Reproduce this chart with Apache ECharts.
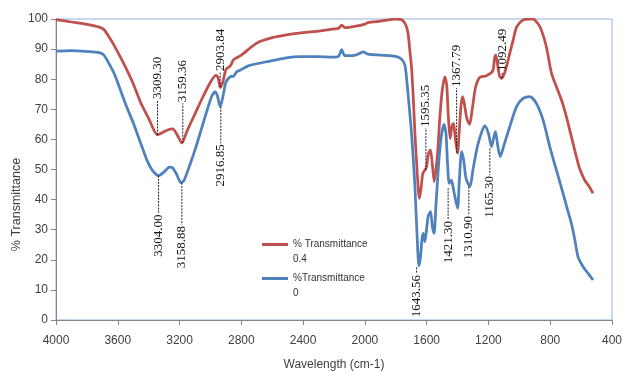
<!DOCTYPE html>
<html>
<head>
<meta charset="utf-8">
<script src="https://cdn.jsdelivr.net/npm/echarts@6/dist/echarts.min.js"></script>
<style>
  html, body { margin: 0; padding: 0; background: #fff; }
  #chart { width: 625px; height: 371px; }
</style>
</head>
<body>
<div id="chart"></div>
<script>
// 0.4 sample (red)
const redWave = [4000, 3900, 3800, 3720, 3690, 3650, 3600, 3550, 3500, 3450, 3400, 3370, 3343, 3310, 3270, 3245, 3215, 3185,
  3150, 3100, 3050, 3000, 2965, 2950, 2937, 2920, 2900, 2870, 2850, 2800, 2700, 2600, 2500, 2400, 2300, 2200, 2170, 2150,
  2130, 2050, 2000, 1980, 1900, 1800, 1760, 1735, 1720, 1708, 1698, 1685, 1676, 1665, 1655, 1648, 1638, 1625, 1611, 1600,
  1590, 1576, 1562, 1551, 1530, 1515, 1500, 1482, 1470, 1460, 1448, 1436, 1426, 1414, 1400, 1390, 1378, 1367, 1355, 1340,
  1322, 1305, 1285, 1265, 1249, 1220, 1185, 1170, 1160, 1152, 1140, 1128, 1115, 1100, 1084, 1062, 1040, 1018, 976, 940,
  911, 880, 857, 825, 792, 760, 727, 695, 663, 631, 610, 577, 550, 523];
const redT = [99.8, 99.0, 98.2, 97.3, 96.5, 93.5, 89, 84, 78.5, 72, 67, 63.5, 61.5, 62.3, 63.3, 63.5, 61.5, 58.8,
  63, 68.5, 74, 79, 81.3, 80.5, 77.3, 79, 83.2, 84.5, 86.5, 88, 92, 93.8, 94.8, 95.5, 96, 96.7, 96.9, 98,
  97.1, 97.7, 98.3, 98.8, 99.3, 100, 99.7, 98, 95, 89, 84, 72, 62, 52, 44, 40.4, 43, 48.7, 49.8, 51,
  55, 56.5, 51, 46, 55, 67, 76, 80.8, 78, 68, 60.3, 64.5, 65.3, 60, 55.4, 62, 71, 74.2, 71.5, 67,
  65, 70, 77, 80, 80.8, 81, 82, 83, 87, 88, 84.5, 81, 80.3, 81.5, 84, 88.6, 93, 97.3, 99.7, 100,
  100, 98.5, 96.3, 90.8, 82, 77.5, 73.1, 67.5, 60.9, 54.3, 50.4, 46.5, 44.5, 42.1];

// 0 sample (blue)
const blueWave = [4000, 3900, 3800, 3720, 3690, 3660, 3620, 3580, 3540, 3500, 3450, 3412, 3380, 3350, 3336, 3300, 3265, 3245,
  3220, 3190, 3170, 3130, 3100, 3067, 3020, 2990, 2970, 2955, 2937, 2920, 2900, 2873, 2850, 2830, 2808, 2750, 2636, 2500,
  2420, 2300, 2200, 2170, 2150, 2130, 2080, 2040, 2010, 1980, 1900, 1794, 1760, 1741, 1731, 1715, 1698, 1685, 1676, 1662,
  1650, 1640, 1630, 1622, 1612, 1601, 1590, 1575, 1563, 1552, 1540, 1525, 1508, 1488, 1475, 1465, 1454, 1440, 1425, 1400,
  1390, 1374, 1360, 1345, 1320, 1300, 1270, 1240, 1223, 1200, 1180, 1168, 1155, 1140, 1124, 1100, 1062, 1018, 976, 932,
  889, 846, 803, 760, 717, 690, 663, 640, 620, 587, 555, 523];
const blueT = [89.3, 89.5, 89.2, 88.8, 88, 85.5, 81.5, 76, 70.5, 65.5, 58.5, 53.2, 50, 48.3, 48, 49.2, 50.8, 50.6,
  48.5, 45.6, 46.5, 52, 56.5, 62, 70, 74.5, 75.8, 74.5, 70.9, 74, 79, 80.8, 81, 82.5, 83, 84.5, 85.8, 87.2,
  87.5, 87.5, 87.3, 87.6, 89.8, 87.8, 87.8, 88.4, 89.1, 88.3, 88, 87.5, 86.5, 84.7, 80.8, 72, 62, 52, 44.3, 28,
  18, 21, 27, 28.8, 26, 30, 34.5, 36, 31, 28.8, 38, 50, 60, 65, 62, 52, 45.4, 46.5, 43, 37.1,
  45, 55.9, 53, 47, 44.3, 50, 58, 63, 64.5, 62, 57.6, 60, 62.6, 58, 54.3, 58, 64.2, 70.9, 73.6, 74.2,
  71.9, 66.4, 57.6, 49.8, 42.1, 37, 32.1, 26.5, 21, 17.7, 15.5, 13.3];

// peak annotations: position, leader line from curve to label
const annWave = [3343, 3179, 2937, 1605, 1406, 1111, 3336, 3185, 2933, 1665, 1461, 1327, 1191];
const annFrom = [61.5, 58.8, 77.3, 49.8, 55.5, 80.3, 48, 45.6, 70.9, 17.5, 43.8, 44.3, 57];
const annTo = [73.1, 72, 82.4, 63.8, 77.1, 82.4, 35.4, 31.6, 58.7, 15.3, 33.2, 34.9, 48.2];
const annText = ['3309.30', '3159.36', '2903.84', '1595.35', '1367.79', '1092.49', '3304.00', '3158.88', '2916.85',
  '1643.56', '1421.30', '1310.90', '1165.30'];

const seriesNames = ['% Transmittance 0.4', '%Transmittance 0'];
const xTicks = { min: 400, max: 4000, interval: 400 };

const chart = echarts.init(document.getElementById('chart'));
const axisGray = '#868686';
const textColor = '#404040';

function legendFor (name, top) {
  return {
    data: [name],
    left: 262,
    top: top,
    orient: 'vertical',
    padding: 0,
    icon: 'rect',
    itemWidth: 26,
    itemHeight: 3,
    selectedMode: false,
    // empty first line so the icon sits level with the name, the value goes below
    formatter: n => '\n' + n.replace(/ (\S+)$/, '\n$1'),
    textStyle: { fontFamily: 'Liberation Sans', fontSize: 10, color: '#333', lineHeight: 15 }
  };
}

const option = {
  animation: false,
  backgroundColor: '#fff',
  grid: {
    left: 56, right: 13, top: 19, bottom: 51,
    show: true, borderColor: '#8DB3E2', borderWidth: 1,
    outerBoundsMode: 'none'
  },
  legend: [legendFor(seriesNames[0], 222), legendFor(seriesNames[1], 256)],
  xAxis: {
    type: 'value',
    inverse: true,
    min: xTicks.min,
    max: xTicks.max,
    interval: xTicks.interval,
    name: 'Wavelength (cm-1)',
    nameLocation: 'middle',
    nameGap: 39,
    nameTextStyle: { fontFamily: 'Liberation Sans', fontSize: 12, color: textColor },
    axisLine: { lineStyle: { color: axisGray } },
    axisTick: { show: true, length: 5, lineStyle: { color: axisGray } },
    axisLabel: { margin: 15, fontFamily: 'Liberation Sans', fontSize: 12, color: textColor, formatter: v => String(v) },
    splitLine: { show: false }
  },
  yAxis: {
    type: 'value',
    min: 0,
    max: 100,
    interval: 10,
    name: '% Transmittance',
    nameLocation: 'middle',
    nameGap: 33,
    nameMoveOverlap: false,
    nameTextStyle: { fontFamily: 'Liberation Sans', fontSize: 12.5, color: textColor, padding: [0, 70, 0, 0] },
    axisLine: { show: true, lineStyle: { color: axisGray } },
    axisTick: { show: true, length: 5, lineStyle: { color: axisGray } },
    axisLabel: { margin: 8, fontFamily: 'Liberation Sans', fontSize: 12, color: textColor },
    splitLine: { show: false }
  },
  series: [
    {
      name: seriesNames[0],
      type: 'line',
      data: redWave.map((w, i) => [w, redT[i]]),
      showSymbol: false,
      symbol: 'none',
      smooth: 0.25,
      color: '#C0504D',
      lineStyle: { width: 2.75, color: '#C0504D' },
      z: 3
    },
    {
      name: seriesNames[1],
      type: 'line',
      data: blueWave.map((w, i) => [w, blueT[i]]),
      showSymbol: false,
      symbol: 'none',
      smooth: 0.25,
      color: '#4F81BD',
      lineStyle: { width: 2.75, color: '#4F81BD' },
      z: 3
    },
    {
      name: 'peaks',
      type: 'custom',
      z: 5,
      data: annWave.map((w, i) => [w, annFrom[i], annTo[i]]),
      encode: { x: 0, y: [1, 2] },
      renderItem: function (params, api) {
        const i = params.dataIndex;
        const p1 = api.coord([api.value(0), api.value(1)]);
        const p2 = api.coord([api.value(0), api.value(2)]);
        const up = p2[1] < p1[1];
        return {
          type: 'group',
          children: [
            {
              type: 'line',
              shape: { x1: p1[0], y1: p1[1], x2: p2[0], y2: p2[1] },
              style: { stroke: '#222', lineWidth: 1, lineDash: [2, 1.2] }
            },
            {
              type: 'text',
              x: p2[0],
              y: p2[1],
              rotation: Math.PI / 2,
              style: {
                text: annText[i],
                x: up ? 1 : -1,
                y: 0,
                align: up ? 'left' : 'right',
                verticalAlign: 'middle',
                fontFamily: 'Liberation Serif',
                fontSize: 13,
                fill: '#111'
              }
            }
          ]
        };
      }
    }
  ]
};

chart.setOption(option);
</script>
</body>
</html>
